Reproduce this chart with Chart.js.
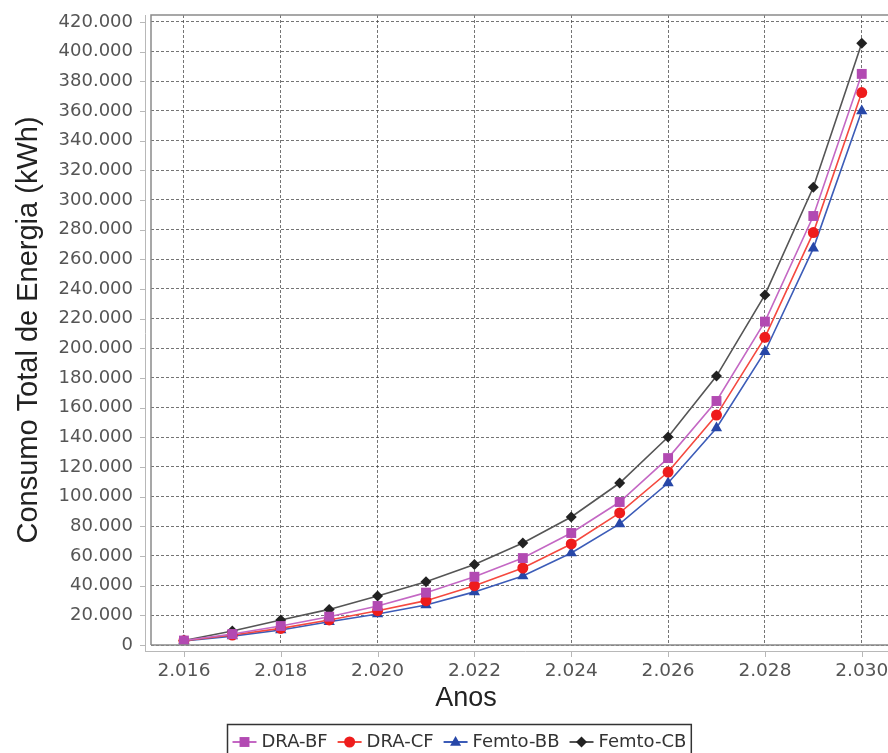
<!DOCTYPE html>
<html>
<head>
<meta charset="utf-8">
<script src="https://cdn.jsdelivr.net/npm/chart.js@4"></script>
<style>
html, body { margin: 0; padding: 0; background: #fff; overflow: hidden; }
#wrap { width: 920px; height: 753px; }
</style>
</head>
<body>
<div id="wrap"><canvas id="myCanvas" width="920" height="753"></canvas></div>
<script>
// anos e consumo (kWh)
const years = [2016, 2017, 2018, 2019, 2020, 2021, 2022, 2023, 2024, 2025, 2026, 2027, 2028, 2029, 2030]
const draBF = [3000, 7400, 12800, 19100, 26300, 35300, 46000, 58600, 75500, 96400, 126000, 164500, 218000, 289200, 385000]
const draCF = [2900, 6700, 11200, 16900, 23100, 29900, 40000, 51900, 68100, 89000, 116600, 155000, 207400, 278000, 372400]
const femtoBB = [2800, 6000, 10100, 15700, 20900, 27000, 35800, 46500, 62000, 81600, 109200, 146300, 197700, 267400, 360000]
const femtoCB = [3000, 9400, 16900, 24000, 33000, 42700, 54300, 68800, 86300, 109200, 140200, 181300, 236000, 308600, 405600]
const seriesNames = ['DRA-BF', 'DRA-CF', 'Femto-BB', 'Femto-CB']

// marcas dos eixos
const xTicks = [2016, 2018, 2020, 2022, 2024, 2026, 2028, 2030]
const yTicks = [0, 20000, 40000, 60000, 80000, 100000, 120000, 140000, 160000, 180000, 200000,
  220000, 240000, 260000, 280000, 300000, 320000, 340000, 360000, 380000, 400000, 420000]

function fmt(v) {
  return String(Math.round(v)).replace(/\B(?=(\d{3})+(?!\d))/g, '.')
}

function toPoints(arr) {
  return arr.map((v, i) => ({x: years[i], y: v}))
}

function drawMarker(ctx, style, x, y, r) {
  ctx.beginPath()
  if (style === 'rect') {
    const s = r * Math.SQRT1_2
    ctx.rect(x - s, y - s, 2 * s, 2 * s)
  } else if (style === 'circle') {
    ctx.arc(x, y, r, 0, Math.PI * 2)
  } else if (style === 'triangle') {
    ctx.moveTo(x, y - r * 1.1)
    ctx.lineTo(x + r, y + r * 0.7)
    ctx.lineTo(x - r, y + r * 0.7)
    ctx.closePath()
  } else {
    ctx.moveTo(x, y - r)
    ctx.lineTo(x + r, y)
    ctx.lineTo(x, y + r)
    ctx.lineTo(x - r, y)
    ctx.closePath()
  }
  ctx.fill()
}

// borda do plot + linhas dos eixos deslocadas + titulo "Anos"
const framePlugin = {
  id: 'frame',
  afterDraw(chart) {
    const ctx = chart.ctx
    const a = chart.chartArea
    const ys = chart.scales.y
    const xs = chart.scales.x
    ctx.save()
    ctx.strokeStyle = '#8a8a8a'
    ctx.lineWidth = 1.5
    ctx.beginPath()
    ctx.moveTo(a.left, a.bottom)
    ctx.lineTo(a.left, a.top)
    ctx.lineTo(a.right + 5, a.top)
    ctx.moveTo(a.left, a.bottom)
    ctx.lineTo(a.right + 5, a.bottom)
    ctx.stroke()
    // eixo externo
    ctx.strokeStyle = '#b8b8b8'
    ctx.lineWidth = 1
    ctx.beginPath()
    ctx.moveTo(a.left - 5.5, a.top)
    ctx.lineTo(a.left - 5.5, a.bottom + 7)
    ctx.moveTo(a.left - 5.5, a.bottom + 6.5)
    ctx.lineTo(a.right + 5, a.bottom + 6.5)
    ys.ticks.forEach(t => {
      const py = Math.round(ys.getPixelForValue(t.value)) + 0.5
      ctx.moveTo(a.left - 11, py)
      ctx.lineTo(a.left - 5.5, py)
    })
    xs.ticks.forEach(t => {
      const px = Math.round(xs.getPixelForValue(t.value)) + 0.5
      ctx.moveTo(px, a.bottom + 6.5)
      ctx.lineTo(px, a.bottom + 12)
    })
    ctx.stroke()
    ctx.fillStyle = '#222'
    ctx.font = '27px "Liberation Sans", Arial'
    ctx.textAlign = 'center'
    ctx.textBaseline = 'alphabetic'
    ctx.fillText('Anos', 466, 706)
    ctx.restore()
  }
}

// legenda com linha + marcador dentro de uma caixa
const legendPlugin = {
  id: 'boxLegend',
  afterDraw(chart) {
    const ctx = chart.ctx
    ctx.save()
    ctx.font = '18px "DejaVu Sans"'
    const lineLen = 24, gap = 5, itemGap = 10, padX = 5
    const dsets = chart.data.datasets
    const widths = dsets.map(d => lineLen + gap + ctx.measureText(d.label).width)
    const total = widths.reduce((s, w) => s + w, 0) + itemGap * (widths.length - 1) + padX * 2
    let x = Math.round(459 - total / 2) + 0.5
    const top = 724.5, yc = 742
    ctx.strokeStyle = '#333'
    ctx.lineWidth = 1.5
    ctx.strokeRect(x, top, total, 40)
    x += padX
    dsets.forEach((d, i) => {
      ctx.strokeStyle = d.borderColor
      ctx.lineWidth = 2
      ctx.beginPath()
      ctx.moveTo(x, yc)
      ctx.lineTo(x + lineLen, yc)
      ctx.stroke()
      ctx.fillStyle = d.pointBackgroundColor
      drawMarker(ctx, d.pointStyle, x + lineLen / 2, yc, d.pointStyle === 'rect' ? 7 : 5.5)
      ctx.fillStyle = '#333'
      ctx.textBaseline = 'middle'
      ctx.textAlign = 'left'
      ctx.fillText(d.label, x + lineLen + gap, yc)
      x += widths[i] + itemGap
    })
    ctx.restore()
  }
}

const styles = [
  {line: '#c468c4', fill: '#b24ab2', shape: 'rect', r: 7},
  {line: '#f5493f', fill: '#ee1c1c', shape: 'circle', r: 5.5},
  {line: '#3c5cb8', fill: '#2747a8', shape: 'triangle', r: 6.5},
  {line: '#555555', fill: '#222222', shape: 'rectRot', r: 5.5}
]

const allSeries = [draBF, draCF, femtoBB, femtoCB]

const datasets = allSeries.map((arr, i) => ({
  label: seriesNames[i],
  data: toPoints(arr),
  borderColor: styles[i].line,
  borderWidth: 1.6,
  pointStyle: styles[i].shape,
  pointRadius: styles[i].r,
  pointBackgroundColor: styles[i].fill,
  pointBorderColor: styles[i].fill,
  pointBorderWidth: 0,
  tension: 0
}))

const gridStyle = {color: 'rgba(70,70,70,0.75)', lineWidth: 1, drawTicks: false}

const config = {
  type: 'line',
  data: {datasets: datasets},
  options: {
    responsive: false,
    animation: false,
    layout: {padding: {top: 15, right: 20, left: 0, bottom: 0}},
    plugins: {legend: {display: false}, tooltip: {enabled: false}},
    scales: {
      x: {
        type: 'linear',
        min: 2015.32,
        max: 2030.79,
        grid: gridStyle,
        border: {display: false, dash: [3, 2]},
        afterBuildTicks: scale => { scale.ticks = xTicks.map(v => ({value: v})) },
        ticks: {
          autoSkip: false,
          maxRotation: 0,
          padding: 15,
          color: '#555',
          font: {family: '"DejaVu Sans"', size: 18.5},
          callback: v => fmt(v)
        },
        afterFit: scale => {
          scale.height = 108
          scale.paddingLeft = 0
          scale.paddingRight = 0
        }
      },
      y: {
        min: 0,
        max: 424700,
        grid: gridStyle,
        border: {display: false, dash: [3, 2]},
        afterBuildTicks: scale => { scale.ticks = yTicks.map(v => ({value: v})) },
        ticks: {
          autoSkip: false,
          padding: 18,
          color: '#555',
          font: {family: '"DejaVu Sans"', size: 18},
          callback: v => fmt(v)
        },
        title: {
          display: true,
          text: 'Consumo Total de Energia (kWh)',
          color: '#222',
          font: {family: '"Liberation Sans", Arial', size: 29},
          padding: {top: 12, bottom: 0}
        },
        afterFit: scale => {
          scale.width = 151
          scale.paddingTop = 0
          scale.paddingBottom = 0
        }
      }
    }
  },
  plugins: [framePlugin, legendPlugin]
}

var myChart = new Chart(document.getElementById('myCanvas'), config)
</script>
</body>
</html>
